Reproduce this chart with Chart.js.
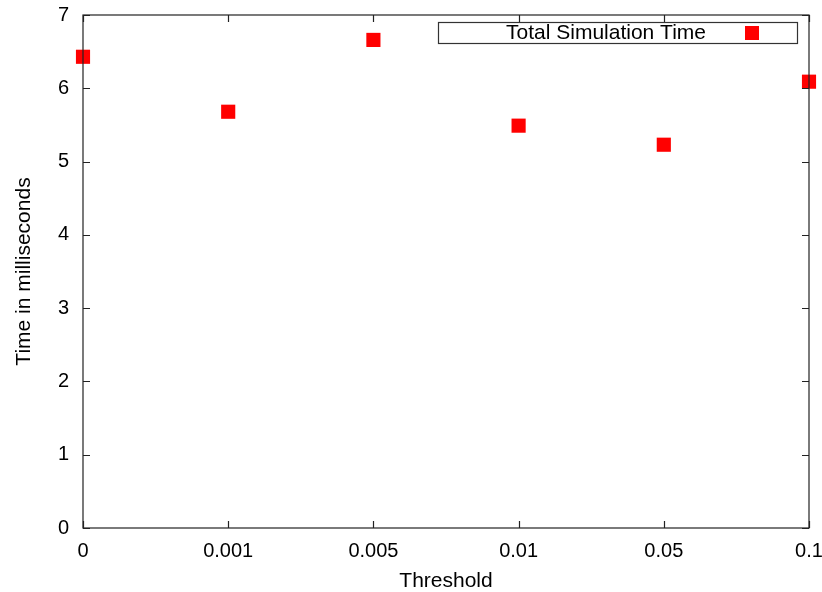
<!DOCTYPE html>
<html>
<head>
<meta charset="utf-8">
<script src="https://cdn.jsdelivr.net/npm/chart.js@4.4.1/dist/chart.umd.min.js"></script>
<style>
  html, body { margin: 0; padding: 0; background: #fff; }
  #wrap { width: 822px; height: 592px; }
</style>
</head>
<body>
<div id="wrap"><canvas id="c" width="822" height="592"></canvas></div>
<script>
// data
const thresholds = ['0', '0.001', '0.005', '0.01', '0.05', '0.1'];
const simTime = [6.43, 5.68, 6.66, 5.49, 5.23, 6.09];
const yTicks = [0, 1, 2, 3, 4, 5, 6, 7];
const seriesName = 'Total Simulation Time';

const FONT = 'Liberation Sans, Arial, sans-serif';

// gnuplot style frame with inward ticks on all four sides + boxed legend
const framePlugin = {
  id: 'frame',
  afterDraw(chart) {
    const { ctx, chartArea: a, scales } = chart;
    const tl = 7;
    ctx.save();
    ctx.strokeStyle = '#222';
    ctx.lineWidth = 1.2;
    ctx.strokeRect(a.left, a.top, a.right - a.left, a.bottom - a.top);
    ctx.beginPath();
    scales.x.ticks.forEach((t, i) => {
      const px = Math.round(scales.x.getPixelForTick(i)) + 0.5;
      ctx.moveTo(px, a.bottom); ctx.lineTo(px, a.bottom - tl);
      ctx.moveTo(px, a.top); ctx.lineTo(px, a.top + tl);
    });
    scales.y.ticks.forEach((t, i) => {
      const py = Math.round(scales.y.getPixelForTick(i)) + 0.5;
      ctx.moveTo(a.left, py); ctx.lineTo(a.left + tl, py);
      ctx.moveTo(a.right, py); ctx.lineTo(a.right - tl, py);
    });
    ctx.stroke();

    // legend box (top right, inside plot)
    const bx = 438, by = 22, bw = 359, bh = 21;
    ctx.fillStyle = '#fff';
    ctx.fillRect(bx, by, bw, bh);
    ctx.lineWidth = 1.2;
    ctx.strokeStyle = '#333';
    ctx.strokeRect(bx + 0.5, by + 0.5, bw, bh);
    ctx.fillStyle = '#000';
    ctx.font = '21px ' + FONT;
    ctx.textAlign = 'right';
    ctx.textBaseline = 'middle';
    ctx.fillText(seriesName, 706, by + bh / 2 + 1);
    ctx.fillStyle = '#ff0000';
    ctx.fillRect(745, by + 4, 14, 14);
    ctx.restore();
  }
};

new Chart(document.getElementById('c'), {
  type: 'line',
  data: {
    labels: thresholds,
    datasets: [{
      label: seriesName,
      data: simTime,
      showLine: false,
      pointStyle: 'rect',
      pointRadius: 10,
      pointHoverRadius: 10,
      pointBorderWidth: 0,
      pointBackgroundColor: '#ff0000',
      borderColor: '#ff0000',
      backgroundColor: '#ff0000'
    }]
  },
  options: {
    responsive: false,
    animation: false,
    clip: false,
    layout: { padding: { left: 0, top: 15, right: 13, bottom: 0 } },
    plugins: {
      legend: { display: false },
      tooltip: { enabled: false }
    },
    scales: {
      x: {
        type: 'category',
        offset: false,
        afterFit(s) { s.height = 64; s.paddingLeft = 0; s.paddingRight = 0; },
        grid: { display: false, drawTicks: false },
        border: { display: false },
        ticks: {
          color: '#000',
          font: { family: FONT, size: 20 },
          padding: 11,
          maxRotation: 0,
          autoSkip: false
        },
        title: {
          display: true,
          text: 'Threshold',
          color: '#000',
          font: { family: FONT, size: 21, lineHeight: 1 },
          padding: { top: 0, bottom: 0 }
        }
      },
      y: {
        min: 0,
        max: 7,
        afterFit(s) { s.width = 83; s.paddingTop = 0; s.paddingBottom = 0; },
        afterBuildTicks(s) { s.ticks = yTicks.map(v => ({ value: v })); },
        grid: { display: false, drawTicks: false },
        border: { display: false },
        ticks: {
          color: '#000',
          font: { family: FONT, size: 20 },
          padding: 14
        },
        title: {
          display: true,
          text: 'Time in milliseconds',
          color: '#000',
          font: { family: FONT, size: 21, lineHeight: 1 },
          padding: { top: 14, bottom: 0 }
        }
      }
    }
  },
  plugins: [framePlugin]
});
</script>
</body>
</html>
